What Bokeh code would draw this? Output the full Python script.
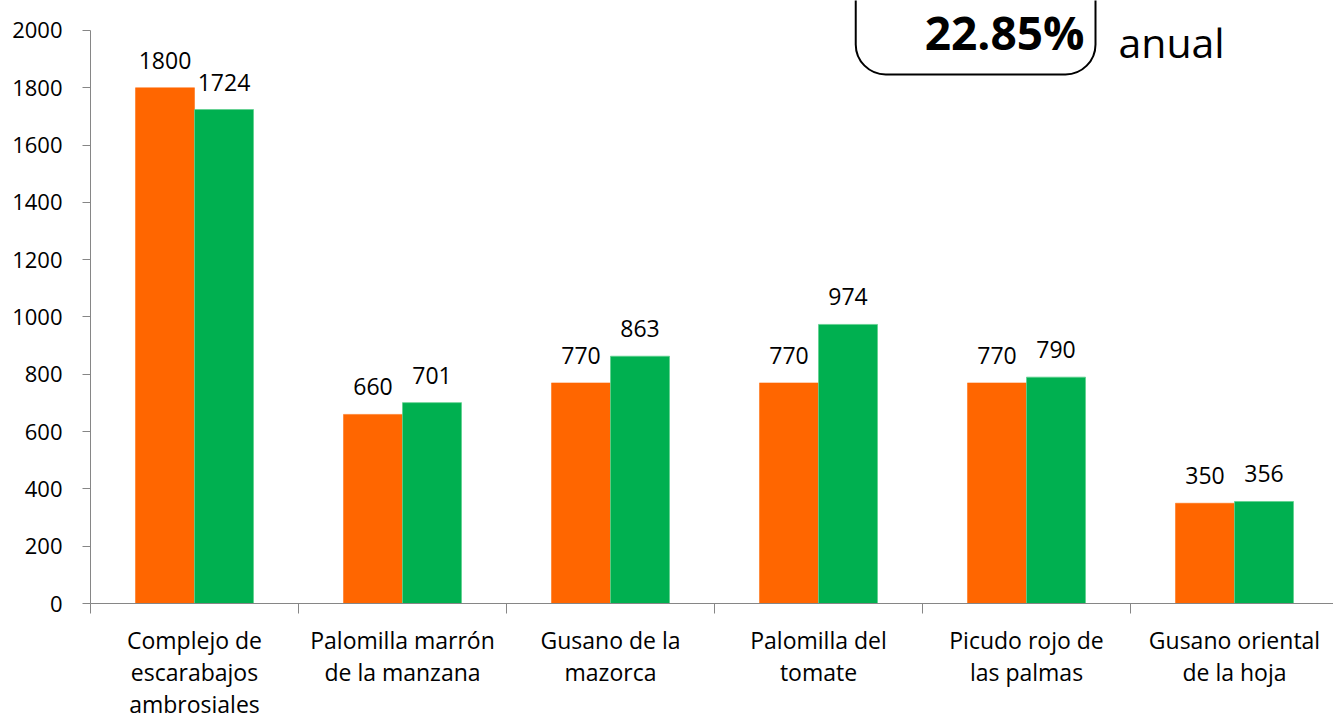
from bokeh.plotting import figure
from bokeh.models import ColumnDataSource, Range1d, FixedTicker, Label, LabelSet
from bokeh.core.properties import value
from bokeh.embed import file_html
from bokeh.resources import INLINE

# ---- data ----
categories = [
    "Complejo de\nescarabajos\nambrosiales",
    "Palomilla marrón\nde la manzana",
    "Gusano de la\nmazorca",
    "Palomilla del\ntomate",
    "Picudo rojo de\nlas palmas",
    "Gusano oriental\nde la hoja",
]
serie_naranja = [1800, 660, 770, 770, 770, 350]
serie_verde = [1724, 701, 863, 974, 790, 356]
y_ticks = [0, 200, 400, 600, 800, 1000, 1200, 1400, 1600, 1800, 2000]
y_max = 2000
tasa_texto = "22.85%"
tasa_sufijo = "anual"

# ---- styles / layout ----
FONT = "Open Sans"
ORANGE = "#FF6600"
GREEN = "#00B050"
AXIS = "#868686"
W, H = 1333, 722
LEFT = 90            # y axis position (px)
Y_TOP_PX = 30        # pixel of y_max
Y_ZERO_PX = 604      # pixel of 0
CAT_PX = 208.0
BAR_W = 0.2837

n = len(categories)
centers = [i + 0.5 for i in range(n)]
src = ColumnDataSource(dict(
    xa=[c - BAR_W / 2 for c in centers],
    xb=[c + BAR_W / 2 for c in centers],
    a=serie_naranja,
    b=serie_verde,
    ta=[str(v) for v in serie_naranja],
    tb=[str(v) for v in serie_verde],
))

per_px = y_max / (Y_ZERO_PX - Y_TOP_PX)
p = figure(width=W, height=H,
           x_range=Range1d(0, (W - LEFT) / CAT_PX),
           y_range=Range1d(0, Y_ZERO_PX * per_px),
           output_backend="svg", toolbar_location=None,
           min_border_left=LEFT, min_border_right=0,
           min_border_top=0, min_border_bottom=H - Y_ZERO_PX)
p.outline_line_color = None
p.xgrid.visible = False
p.ygrid.visible = False
p.background_fill_color = "white"
p.border_fill_color = "white"

p.vbar(x="xa", top="a", width=BAR_W, bottom=0, source=src,
       fill_color=ORANGE, line_color=ORANGE, line_width=0.5)
p.vbar(x="xb", top="b", width=BAR_W, bottom=0, source=src,
       fill_color=GREEN, line_color="#5fd08e", line_width=0.8)

for col_x, col_y, col_t in (("xa", "a", "ta"), ("xb", "b", "tb")):
    p.add_layout(LabelSet(x=col_x, y=col_y, text=col_t, source=src,
                          text_align="center", text_baseline="alphabetic",
                          y_offset=19, text_font=value(FONT),
                          text_font_size="23px", text_color="black"))

# y axis
ya = p.yaxis[0]
ya.ticker = FixedTicker(ticks=y_ticks)
ya.bounds = (0, y_max)
ya.axis_line_color = AXIS
ya.major_tick_line_color = AXIS
ya.major_tick_out = 8
ya.major_tick_in = 0
ya.minor_tick_line_color = None
ya.major_label_standoff = 20
ya.major_label_text_font = FONT
ya.major_label_text_font_size = "22px"
ya.major_label_text_color = "black"

# x axis: labels at category centers, separators as minor ticks
xa = p.xaxis[0]
xa.ticker = FixedTicker(ticks=centers, minor_ticks=list(range(n + 1)))
xa.major_label_overrides = {c: t for c, t in zip(centers, categories)}
xa.axis_line_color = AXIS
xa.major_tick_line_color = None
xa.major_tick_out = 0
xa.major_tick_in = 0
xa.minor_tick_line_color = AXIS
xa.minor_tick_out = 10
xa.minor_tick_in = 0
xa.major_label_standoff = 10
xa.major_label_text_font = FONT
xa.major_label_text_font_size = "23px"
xa.major_label_text_color = "black"
xa.major_label_text_line_height = 1.0

# rate box
p.add_layout(Label(x=(1095 - LEFT) / CAT_PX, y=(Y_ZERO_PX - 74) * per_px,
                   text=tasa_texto, text_align="right", text_baseline="bottom",
                   text_font=FONT, text_font_size="46px",
                   text_font_style="bold", text_color="black",
                   border_line_color="black", border_line_width=2,
                   background_fill_color="white", border_radius=30,
                   padding=dict(left=69, right=11, top=60, bottom=11)))
p.add_layout(Label(x=(1118 - LEFT) / CAT_PX, y=(Y_ZERO_PX - 70) * per_px,
                   text=tasa_sufijo, text_align="left", text_baseline="bottom",
                   text_font=FONT, text_font_size="41px",
                   text_color="black"))

open("out.html", "w").write(file_html(p, INLINE))
